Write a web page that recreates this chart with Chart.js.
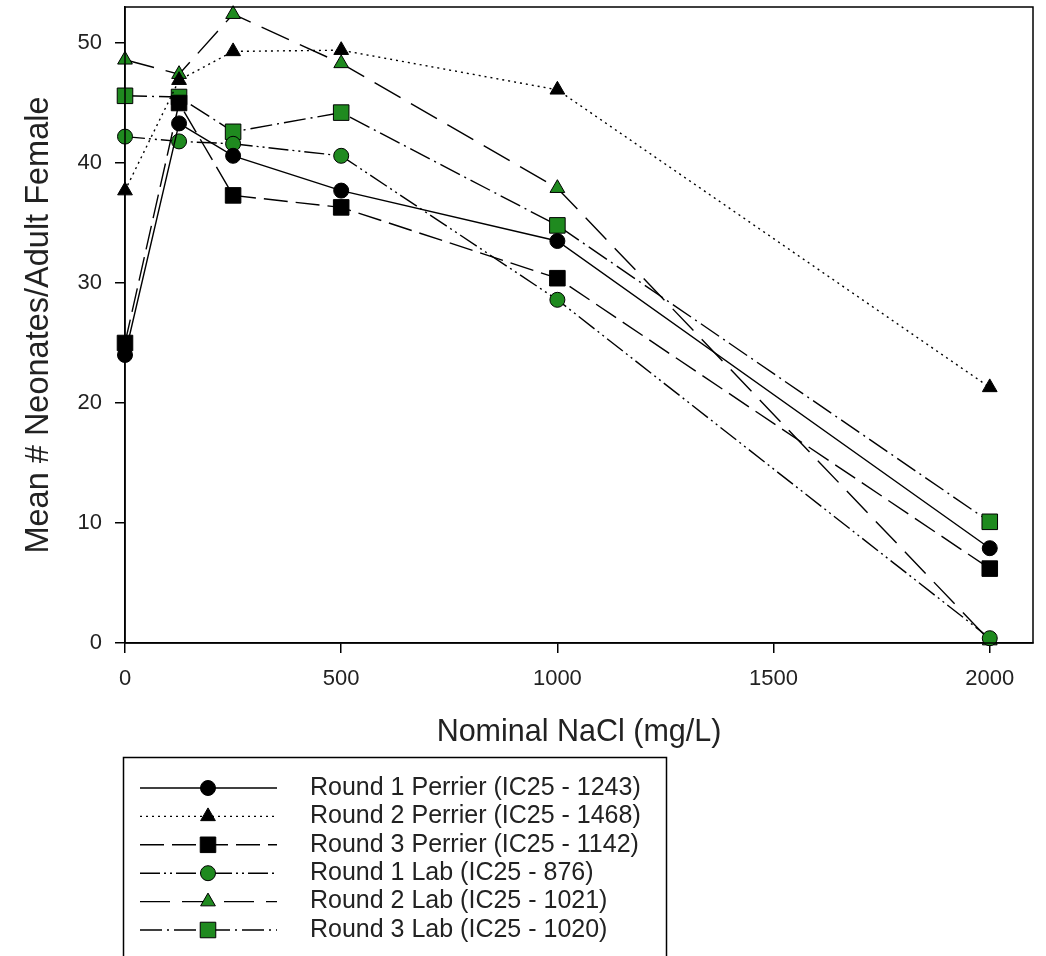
<!DOCTYPE html>
<html>
<head>
<meta charset="utf-8">
<title>Mean neonates vs nominal NaCl</title>
<script src="https://cdn.jsdelivr.net/npm/chart.js@4/dist/chart.umd.min.js"></script>
<style>
  html, body { margin: 0; padding: 0; background: #fff; }
  #grafico { display: block; }
</style>
</head>
<body>
<canvas id="grafico" width="1046" height="956"></canvas>
<script>
// Concentrações nominais (mg/L)
const concentracoes = [0, 125, 250, 500, 1000, 2000];

// Média de neonatos por fêmea adulta
const round1Perrier = [24.0, 43.3, 40.6, 37.7, 33.5, 7.9];
const round2Perrier = [37.7, 46.9, 49.3, 49.4, 46.1, 21.3];
const round3Perrier = [25.0, 45.0, 37.3, 36.3, 30.4, 6.2];
const round1Lab = [42.2, 41.8, 41.6, 40.6, 28.6, 0.4];
const round2Lab = [48.6, 47.4, 52.4, 48.3, 37.9, 0.2];
const round3Lab = [45.6, 45.5, 42.6, 44.2, 34.8, 10.1];

const rotulos = [
    'Round 1 Perrier (IC25 - 1243)',
    'Round 2 Perrier (IC25 - 1468)',
    'Round 3 Perrier (IC25 - 1142)',
    'Round 1 Lab (IC25 - 876)',
    'Round 2 Lab (IC25 - 1021)',
    'Round 3 Lab (IC25 - 1020)'
];

const xTicks = [0, 500, 1000, 1500, 2000];
const yTicks = [0, 10, 20, 30, 40, 50];

const VERDE = '#1f8a1f';
const FONTE = '"Liberation Sans", Arial, sans-serif';

// Monta um dataset a partir de uma série
function serie(label, valores, estilo, raio, cor, tracejado) {
    return {
        label: label,
        data: concentracoes.map((x, i) => ({ x: x, y: valores[i] })),
        borderColor: '#000',
        borderWidth: 1.4,
        borderDash: tracejado,
        pointStyle: estilo,
        pointRadius: raio,
        pointBackgroundColor: cor,
        pointBorderColor: '#000',
        pointBorderWidth: 1,
        tension: 0,
        fill: false,
        clip: false
    };
}

const datasets = [
    serie(rotulos[0], round1Perrier, 'circle', 7.5, '#000', []),
    serie(rotulos[1], round2Perrier, 'triangle', 8.5, '#000', [2, 4]),
    serie(rotulos[2], round3Perrier, 'rect', 11, '#000', [24, 8]),
    serie(rotulos[3], round1Lab, 'circle', 7.5, VERDE, [20, 4, 2, 4, 2, 4]),
    serie(rotulos[4], round2Lab, 'triangle', 8.5, VERDE, [30, 12]),
    serie(rotulos[5], round3Lab, 'rect', 11, VERDE, [22, 5, 2, 5])
];

// Moldura completa ao redor da área do gráfico
const moldura = {
    id: 'moldura',
    afterDraw(chart) {
        const { ctx, chartArea: a } = chart;
        ctx.save();
        ctx.strokeStyle = '#000';
        ctx.lineWidth = 1.5;
        ctx.setLineDash([]);
        ctx.strokeRect(a.left, a.top, a.right - a.left, a.bottom - a.top);
        ctx.restore();
    }
};

// Legenda desenhada à mão, abaixo do eixo x
const legenda = {
    id: 'legendaCaixa',
    afterDraw(chart) {
        const ctx = chart.ctx;
        ctx.save();
        ctx.strokeStyle = '#000';
        ctx.lineWidth = 1.5;
        ctx.setLineDash([]);
        ctx.strokeRect(123.5, 757.5, 543, 260);

        chart.data.datasets.forEach((ds, i) => {
            const y = 788 + i * 28.4;
            ctx.strokeStyle = '#000';
            ctx.lineWidth = 1.4;
            ctx.setLineDash(ds.borderDash);
            ctx.beginPath();
            ctx.moveTo(140, y);
            ctx.lineTo(277, y);
            ctx.stroke();

            ctx.setLineDash([]);
            ctx.fillStyle = ds.pointBackgroundColor;
            ctx.strokeStyle = '#000';
            ctx.lineWidth = 1;
            Chart.helpers.drawPoint(ctx, {
                pointStyle: ds.pointStyle,
                rotation: 0,
                radius: ds.pointRadius,
                borderWidth: 1
            }, 208, y);

            ctx.fillStyle = '#222';
            ctx.font = '25px ' + FONTE;
            ctx.textAlign = 'left';
            ctx.textBaseline = 'middle';
            ctx.fillText(ds.label, 310, y);
        });
        ctx.restore();
    }
};

const ctx = document.getElementById('grafico').getContext('2d');
new Chart(ctx, {
    type: 'line',
    data: { datasets: datasets },
    options: {
        responsive: false,
        animation: false,
        layout: {
            autoPadding: false,
            padding: { left: 0, top: 7, right: 13, bottom: 205 }
        },
        plugins: {
            legend: { display: false },
            tooltip: { enabled: false }
        },
        scales: {
            x: {
                type: 'linear',
                min: 0,
                max: 2100,
                afterBuildTicks: s => { s.ticks = xTicks.map(v => ({ value: v })); },
                afterFit: s => {
                    s.height = 108;
                    s.paddingLeft = 0;
                    s.paddingRight = 0;
                },
                ticks: {
                    padding: 13,
                    color: '#222',
                    font: { family: FONTE, size: 22 },
                    callback: v => String(v)
                },
                grid: {
                    drawOnChartArea: false,
                    drawTicks: true,
                    tickLength: 10,
                    color: '#000',
                    lineWidth: 1.5
                },
                border: { color: '#000', width: 1.5 },
                title: {
                    display: true,
                    text: 'Nominal NaCl (mg/L)',
                    color: '#222',
                    font: { family: FONTE, size: 30.5 },
                    padding: { top: 0, bottom: 0 }
                }
            },
            y: {
                type: 'linear',
                min: 0,
                max: 53,
                afterBuildTicks: s => { s.ticks = yTicks.map(v => ({ value: v })); },
                afterFit: s => {
                    s.width = 125;
                    s.paddingTop = 0;
                    s.paddingBottom = 0;
                },
                ticks: {
                    padding: 13,
                    color: '#222',
                    font: { family: FONTE, size: 22 },
                    callback: v => String(v)
                },
                grid: {
                    drawOnChartArea: false,
                    drawTicks: true,
                    tickLength: 10,
                    color: '#000',
                    lineWidth: 1.5
                },
                border: { color: '#000', width: 1.5 },
                title: {
                    display: true,
                    text: 'Mean # Neonates/Adult Female',
                    color: '#222',
                    font: { family: FONTE, size: 32.5 },
                    padding: { top: 20, bottom: 0 }
                }
            }
        }
    },
    plugins: [moldura, legenda]
});
</script>
</body>
</html>
